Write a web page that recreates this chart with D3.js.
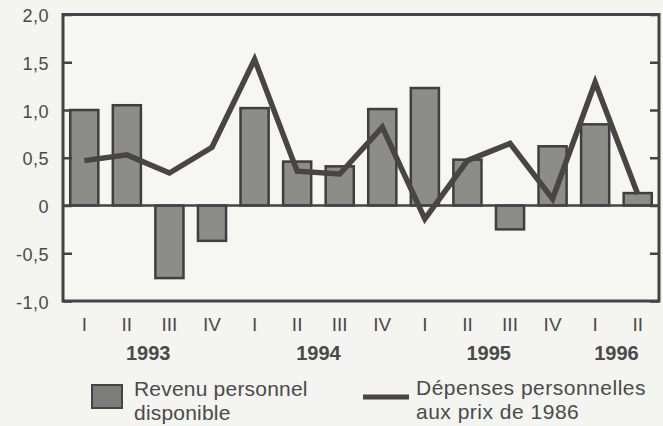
<!DOCTYPE html>
<html lang="fr">
<head>
<meta charset="utf-8">
<title>Revenu et dépenses personnelles</title>
<script src="https://cdn.jsdelivr.net/npm/d3@7"></script>
<style>
  body { margin:0; background:#f4f4f0; }
  svg text { font-family:"Liberation Sans", Arial, Helvetica, sans-serif; fill:#4a4a4a; }
</style>
</head>
<body>
<script>
// quarters 1993-I .. 1996-II
var quarters = ["I","II","III","IV","I","II","III","IV","I","II","III","IV","I","II"]
var quarterYears = [1993,1993,1993,1993,1994,1994,1994,1994,1995,1995,1995,1995,1996,1996]
var years = [1993,1994,1995,1996]
// variation en %
var revenu = [1.0, 1.05, -0.76, -0.37, 1.02, 0.46, 0.41, 1.01, 1.23, 0.48, -0.25, 0.62, 0.85, 0.13]
var depenses = [0.47, 0.53, 0.34, 0.61, 1.53, 0.36, 0.33, 0.82, -0.14, 0.47, 0.65, 0.07, 1.29, 0.12]
var yTicks = [-1, -0.5, 0, 0.5, 1, 1.5, 2]

var width = 663
var height = 426
var plotL = 63, plotR = 659, plotT = 14.5, plotB = 301

var keys = quarters.map(function(q,i){ return quarterYears[i] + "-" + q })

var svg = d3.select("body")
            .append("svg")
            .attr("width",width)
            .attr("height",height)

var x = d3.scaleBand()
          .domain(keys)
          .range([plotL,plotR])
          .paddingInner(0.34)
          .paddingOuter(0.17)

var y = d3.scaleLinear()
          .domain([-1,2])
          .range([plotB,plotT])

function fmt(d){
  if (d === 0) return "0"
  return d.toFixed(1).replace(".",",")
}

// plot background
svg.append("rect")
   .attr("x",plotL).attr("y",plotT)
   .attr("width",plotR-plotL).attr("height",plotB-plotT)
   .attr("fill","#f6f6f2")

var line = d3.line()
             .x(function(d,i){ return x(keys[i]) + x.bandwidth()/2 })
             .y(function(d){ return y(d) })

svg.selectAll("rect.bar")
   .data(revenu)
   .enter()
   .append("rect")
   .attr("class","bar")
   .attr("x",function(d,i){ return x(keys[i]) })
   .attr("y",function(d){ return y(Math.max(0,d)) })
   .attr("width",x.bandwidth())
   .attr("height",function(d){ return Math.abs(y(d)-y(0)) })
   .attr("fill","#8c8c89")
   .attr("stroke","#3f3f3f")
   .attr("stroke-width",2.5)

// zero line
svg.append("line")
   .attr("x1",plotL).attr("x2",plotR)
   .attr("y1",y(0)).attr("y2",y(0))
   .attr("stroke","#444")
   .attr("stroke-width",2.5)

svg.append("path")
   .datum(depenses)
   .attr("d",line)
   .attr("fill","none")
   .attr("stroke","#484545")
   .attr("stroke-width",5.5)
   .attr("stroke-linejoin","miter")
   .attr("stroke-miterlimit",10)

// axes
var yAxisL = d3.axisLeft(y).tickValues(yTicks).tickSize(-9).tickPadding(14).tickFormat(fmt)
var yAxisR = d3.axisRight(y).tickValues(yTicks).tickSize(-9).tickFormat("")

var gl = svg.append("g").attr("transform","translate(" + plotL + ",0)").call(yAxisL)
var gr = svg.append("g").attr("transform","translate(" + plotR + ",0)").call(yAxisR)
;[gl,gr].forEach(function(g){
  g.select(".domain").remove()
  g.selectAll(".tick line").attr("stroke","#444").attr("stroke-width",2.5)
})
gl.selectAll("text")
  .attr("font-size",18)
  .attr("font-family",null)
  .attr("fill",null)
  .attr("dy","0.4em")
  .attr("letter-spacing",0.5)

// frame
svg.append("rect")
   .attr("x",plotL).attr("y",plotT)
   .attr("width",plotR-plotL).attr("height",plotB-plotT)
   .attr("fill","none")
   .attr("stroke","#444")
   .attr("stroke-width",3)

// quarter labels
var xAxis = d3.axisBottom(x).tickSize(0).tickPadding(17).tickFormat(function(d,i){ return quarters[i] })
var gx = svg.append("g").attr("transform","translate(0," + plotB + ")").call(xAxis)
gx.select(".domain").remove()
gx.selectAll("text")
  .attr("font-size",19)
  .attr("font-family",null)
  .attr("fill",null)

// year labels, centred under each year's quarters
svg.selectAll("text.year")
   .data(years)
   .enter()
   .append("text")
   .attr("class","year")
   .attr("x",function(yr){
     var ks = keys.filter(function(k,i){ return quarterYears[i] === yr })
     var a = x(ks[0]) + x.bandwidth()/2
     var b = x(ks[ks.length-1]) + x.bandwidth()/2
     return (a+b)/2
   })
   .attr("y",360)
   .attr("text-anchor","middle")
   .attr("font-size",20)
   .attr("font-weight","bold")
   .text(function(d){ return d })

// legend
var leg = svg.append("g")
leg.append("rect")
   .attr("x",92).attr("y",385).attr("width",30).attr("height",23)
   .attr("fill","#7c7c7a").attr("stroke","#444").attr("stroke-width",2)
leg.append("text").attr("x",134).attr("y",396).attr("font-size",21).attr("letter-spacing",0.2).text("Revenu personnel")
leg.append("text").attr("x",134).attr("y",420).attr("font-size",21).attr("letter-spacing",0.2).text("disponible")

leg.append("line")
   .attr("x1",363).attr("x2",409).attr("y1",397).attr("y2",397)
   .attr("stroke","#484545").attr("stroke-width",5)
leg.append("text").attr("x",416).attr("y",395).attr("font-size",21).attr("letter-spacing",0.5).text("Dépenses personnelles")
leg.append("text").attr("x",416).attr("y",419).attr("font-size",21).attr("letter-spacing",0.5).text("aux prix de 1986")
</script>
</body>
</html>
